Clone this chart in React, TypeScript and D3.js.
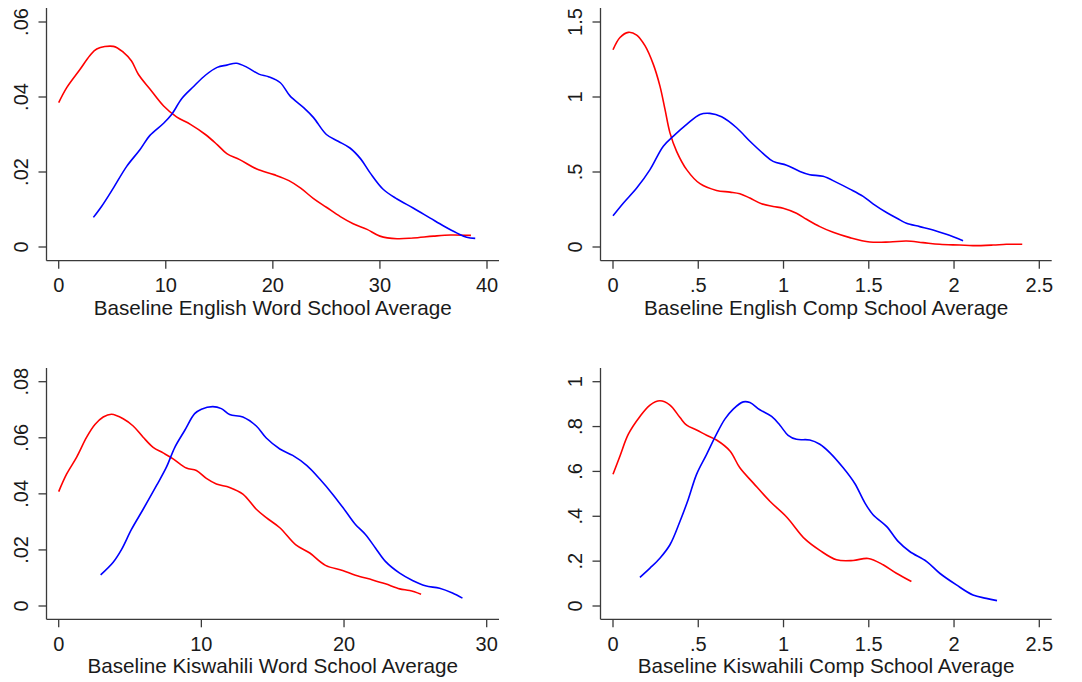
import React from "react";
import * as d3 from "d3";

type Pt = [number, number];

// Panel 1: Baseline English Word School Average
const engWordRed: Pt[] = [
  [0, 0.0385], [0.75, 0.0425], [2, 0.0474], [2.9, 0.051], [3.55, 0.0528], [5.1, 0.0535],
  [6.05, 0.0519], [6.8, 0.0496], [7.45, 0.046], [8.5, 0.0422], [9.8, 0.0376], [11, 0.0347],
  [12.3, 0.0327], [13.7, 0.03], [14.8, 0.0273], [15.7, 0.0249], [16.9, 0.0233], [18.5, 0.0208],
  [20.1, 0.0193], [21.5, 0.0177], [22.6, 0.0157], [23.8, 0.0129], [25, 0.0106], [26.3, 0.0081],
  [27.5, 0.0062], [28.8, 0.0047], [30, 0.0029], [31.6, 0.0022], [33.1, 0.0024], [35, 0.0029],
  [36.6, 0.0032], [38.5, 0.0031],
];
const engWordBlue: Pt[] = [
  [3.24, 0.0079], [4, 0.0108], [5.1, 0.0157], [6.35, 0.0215], [7.6, 0.026], [8.5, 0.0297],
  [9.8, 0.033], [10.56, 0.0354], [11.5, 0.0396], [12.6, 0.0428], [13.7, 0.0458], [14.8, 0.0479],
  [15.7, 0.0485], [16.6, 0.049], [17.6, 0.0479], [18.7, 0.0461], [19.6, 0.0454], [20.7, 0.0438],
  [21.6, 0.0403], [22.9, 0.0371], [23.8, 0.0345], [25, 0.03], [26.1, 0.0282], [27.2, 0.0264],
  [28.2, 0.0235], [29.1, 0.0197], [30.3, 0.0154], [31.6, 0.0128], [33.1, 0.0104], [34.7, 0.0077],
  [35.95, 0.0056], [37.2, 0.0037], [38.1, 0.0026], [38.9, 0.0023],
];

// Panel 2: Baseline English Comp School Average
const engCompRed: Pt[] = [
  [0, 1.315], [0.041, 1.397], [0.09, 1.431], [0.139, 1.413], [0.1875, 1.342], [0.236, 1.219],
  [0.275, 1.074], [0.305, 0.917], [0.334, 0.761], [0.373, 0.638], [0.432, 0.516], [0.51, 0.422],
  [0.607, 0.377], [0.686, 0.366], [0.744, 0.355], [0.803, 0.326], [0.871, 0.288], [0.939, 0.27],
  [0.998, 0.259], [1.076, 0.225], [1.135, 0.185], [1.213, 0.136], [1.291, 0.098], [1.389, 0.0625],
  [1.506, 0.0335], [1.623, 0.0335], [1.721, 0.04], [1.818, 0.029], [1.916, 0.018], [2.033, 0.013],
  [2.111, 0.009], [2.229, 0.013], [2.307, 0.018], [2.4, 0.018],
];
const engCompBlue: Pt[] = [
  [0, 0.208], [0.06, 0.292], [0.139, 0.393], [0.217, 0.516], [0.295, 0.672], [0.354, 0.739],
  [0.432, 0.817], [0.51, 0.884], [0.568, 0.891], [0.637, 0.868], [0.725, 0.795], [0.803, 0.705],
  [0.881, 0.623], [0.939, 0.571], [1.018, 0.545], [1.096, 0.504], [1.154, 0.482], [1.232, 0.471],
  [1.311, 0.431], [1.389, 0.386], [1.467, 0.337], [1.525, 0.288], [1.604, 0.23], [1.682, 0.181],
  [1.721, 0.158], [1.799, 0.136], [1.877, 0.114], [1.955, 0.085], [2.053, 0.042],
];

// Panel 3: Baseline Kiswahili Word School Average
const kisWordRed: Pt[] = [
  [0, 0.0408], [0.56, 0.0471], [1.26, 0.0531], [1.96, 0.0602], [2.54, 0.0647], [3.12, 0.0674],
  [3.7, 0.0684], [4.52, 0.0668], [5.22, 0.0642], [5.92, 0.0602], [6.62, 0.0566], [7.32, 0.0546],
  [8.02, 0.0525], [8.95, 0.0492], [9.65, 0.0483], [10.35, 0.0455], [11.05, 0.0435], [11.98, 0.0423],
  [12.91, 0.0399], [13.85, 0.0345], [14.55, 0.0315], [15.5, 0.0279], [16.6, 0.0219], [17.6, 0.0189],
  [18.7, 0.0145], [19.9, 0.0127], [20.8, 0.011], [22, 0.0093], [22.9, 0.0079], [23.9, 0.0061],
  [24.6, 0.0055], [25.4, 0.0042],
];
const kisWordBlue: Pt[] = [
  [2.94, 0.0111], [3.82, 0.0156], [4.4, 0.0201], [5.1, 0.0273], [5.92, 0.0345], [6.85, 0.0429],
  [7.55, 0.0495], [8.14, 0.0566], [8.83, 0.0626], [9.53, 0.0686], [10, 0.0702], [10.8, 0.0711],
  [11.4, 0.0704], [11.98, 0.0683], [12.91, 0.0674], [13.85, 0.0642], [14.55, 0.0599], [15.5, 0.056],
  [16.4, 0.0537], [17.4, 0.0501], [18.3, 0.0453], [19.2, 0.0399], [20.1, 0.0339], [20.8, 0.0291],
  [21.5, 0.0255], [22.2, 0.0207], [22.9, 0.0159], [23.9, 0.0117], [24.8, 0.0091], [25.7, 0.0072],
  [26.7, 0.0063], [27.6, 0.0046], [28.3, 0.0028],
];

// Panel 4: Baseline Kiswahili Comp School Average
const kisCompRed: Pt[] = [
  [0, 0.587], [0.041, 0.669], [0.09, 0.766], [0.158, 0.845], [0.217, 0.896], [0.275, 0.915],
  [0.334, 0.896], [0.393, 0.84], [0.432, 0.806], [0.49, 0.785], [0.549, 0.761], [0.607, 0.74],
  [0.686, 0.691], [0.744, 0.616], [0.822, 0.549], [0.92, 0.467], [1.018, 0.397], [1.125, 0.299],
  [1.213, 0.248], [1.311, 0.206], [1.408, 0.203], [1.496, 0.212], [1.584, 0.184], [1.662, 0.146],
  [1.75, 0.109],
];
const kisCompBlue: Pt[] = [
  [0.158, 0.128], [0.217, 0.169], [0.275, 0.213], [0.334, 0.273], [0.393, 0.378], [0.441, 0.475],
  [0.49, 0.587], [0.549, 0.676], [0.607, 0.766], [0.656, 0.833], [0.705, 0.878], [0.764, 0.91],
  [0.803, 0.907], [0.861, 0.875], [0.93, 0.845], [0.979, 0.806], [1.027, 0.761], [1.076, 0.743],
  [1.154, 0.74], [1.213, 0.721], [1.271, 0.684], [1.35, 0.616], [1.418, 0.546], [1.477, 0.46],
  [1.525, 0.407], [1.604, 0.355], [1.672, 0.288], [1.74, 0.243], [1.838, 0.199], [1.916, 0.146],
  [2.014, 0.094], [2.111, 0.049], [2.189, 0.034], [2.252, 0.024],
];

const engWordXTicks = [0, 10, 20, 30, 40];
const engWordYTicks = [0, 0.02, 0.04, 0.06];
const engCompXTicks = [0, 0.5, 1, 1.5, 2, 2.5];
const engCompYTicks = [0, 0.5, 1, 1.5];
const kisWordXTicks = [0, 10, 20, 30];
const kisWordYTicks = [0, 0.02, 0.04, 0.06, 0.08];
const kisCompXTicks = [0, 0.5, 1, 1.5, 2, 2.5];
const kisCompYTicks = [0, 0.2, 0.4, 0.6, 0.8, 1];

const titles = [
  "Baseline English Word School Average",
  "Baseline English Comp School Average",
  "Baseline Kiswahili Word School Average",
  "Baseline Kiswahili Comp School Average",
];

const fmt = (v: number) => {
  if (v === 0) return "0";
  let s = String(+v.toFixed(3));
  if (s.startsWith("0.")) s = s.slice(1);
  return s;
};

interface PanelDef {
  title: string;
  red: Pt[];
  blue: Pt[];
  xTicks: number[];
  yTicks: number[];
  axisX: number;
  axisY: number;
  xPx: [number, number];
  yPx: [number, number];
  top: number;
  right: number;
}

const FONT = "'Liberation Sans', Arial, sans-serif";

function Panel({ p }: { p: PanelDef }) {
  const x = d3
    .scaleLinear()
    .domain([p.xTicks[0], p.xTicks[p.xTicks.length - 1]])
    .range(p.xPx);
  const y = d3
    .scaleLinear()
    .domain([p.yTicks[0], p.yTicks[p.yTicks.length - 1]])
    .range(p.yPx);
  const line = d3
    .line<Pt>()
    .x((d) => x(d[0]))
    .y((d) => y(d[1]))
    .curve(d3.curveCatmullRom.alpha(0.5));
  const axisColor = "#3a3a3a";
  const midX = (p.axisX + p.right) / 2;
  return (
    <g>
      <line x1={p.axisX} x2={p.axisX} y1={p.top} y2={p.axisY} stroke={axisColor} strokeWidth={1.3} />
      <line x1={p.axisX} x2={p.right} y1={p.axisY} y2={p.axisY} stroke={axisColor} strokeWidth={1.3} />
      {p.yTicks.map((t) => (
        <g key={"y" + t}>
          <line x1={p.axisX - 8} x2={p.axisX} y1={y(t)} y2={y(t)} stroke={axisColor} strokeWidth={1.3} />
          <text
            transform={`translate(${p.axisX - 18.5},${y(t)}) rotate(-90)`}
            textAnchor="middle"
            fontFamily={FONT}
            fontSize={20}
            fill="#1a1a1a"
          >
            {fmt(t)}
          </text>
        </g>
      ))}
      {p.xTicks.map((t) => (
        <g key={"x" + t}>
          <line x1={x(t)} x2={x(t)} y1={p.axisY} y2={p.axisY + 8} stroke={axisColor} strokeWidth={1.3} />
          <text x={x(t)} y={p.axisY + 31.5} textAnchor="middle" fontFamily={FONT} fontSize={20} fill="#1a1a1a">
            {fmt(t)}
          </text>
        </g>
      ))}
      <text x={midX} y={p.axisY + 54} textAnchor="middle" fontFamily={FONT} fontSize={20.7} fill="#1a1a1a">
        {p.title}
      </text>
      <path d={line(p.red) || ""} fill="none" stroke="#ff0000" strokeWidth={1.6} />
      <path d={line(p.blue) || ""} fill="none" stroke="#0000ff" strokeWidth={1.6} />
    </g>
  );
}

export default function App() {
  const panels: PanelDef[] = [
    {
      title: titles[0], red: engWordRed, blue: engWordBlue, xTicks: engWordXTicks, yTicks: engWordYTicks,
      axisX: 46.5, axisY: 260.7, xPx: [58.7, 487], yPx: [247, 22], top: 8, right: 499,
    },
    {
      title: titles[1], red: engCompRed, blue: engCompBlue, xTicks: engCompXTicks, yTicks: engCompYTicks,
      axisX: 600.5, axisY: 260.7, xPx: [613, 1039.3], yPx: [247, 22], top: 8, right: 1051.7,
    },
    {
      title: titles[2], red: kisWordRed, blue: kisWordBlue, xTicks: kisWordXTicks, yTicks: kisWordYTicks,
      axisX: 46.5, axisY: 619.3, xPx: [58.7, 486.7], yPx: [606, 381.7], top: 368, right: 499,
    },
    {
      title: titles[3], red: kisCompRed, blue: kisCompBlue, xTicks: kisCompXTicks, yTicks: kisCompYTicks,
      axisX: 600.5, axisY: 619.3, xPx: [613, 1039.3], yPx: [606, 381.7], top: 368, right: 1051.7,
    },
  ];
  return (
    <svg
      width={1082}
      height={682}
      style={{ position: "absolute", left: 0, top: 0, background: "#fff" }}
    >
      <rect width={1082} height={682} fill="#fff" />
      {panels.map((p, i) => (
        <Panel key={i} p={p} />
      ))}
    </svg>
  );
}
